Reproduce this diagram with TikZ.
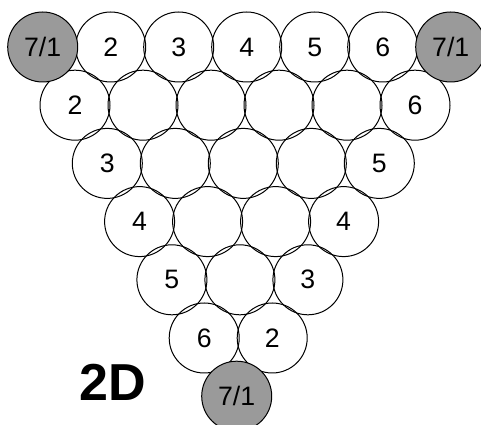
\documentclass[tikz,border=0pt]{standalone}
\usepackage{fontspec}
\setmainfont{Liberation Sans}
\usepackage{tikz}
\definecolor{goalgray}{HTML}{9A9A9A}

\begin{document}
\begin{tikzpicture}[x=0.75pt, y=0.75pt,
    ball/.style={circle, draw=black, line width=0.75pt, inner sep=0pt,
                 minimum size=52.5pt, font=\fontsize{20}{20}\selectfont},
    goal/.style={ball, fill=goalgray}]
  \useasboundingbox (0,0) rectangle (481,424);
  % top row
  \foreach \j/\lbl in {1/2, 2/3, 3/4, 4/5, 5/6}
    \node[ball] (b-0-\j) at ({42.7+68*\j}, 377) {\lbl};
  % lower rows, numbered on both sides
  \foreach \k in {1,...,5}{
    \pgfmathtruncatemacro\last{6-\k}
    \pgfmathtruncatemacro\lleft{\k+1}
    \pgfmathtruncatemacro\lright{7-\k}
    \foreach \j in {0,...,\last}{
      \ifnum\j=0 \def\lbl{\lleft}\else\ifnum\j=\last \def\lbl{\lright}\else\def\lbl{}\fi\fi
      \node[ball] (b-\k-\j) at ({42.7+32.3*\k+68*\j}, {377-58.2*\k}) {\lbl};
    }
  }
  % corners
  \node[goal] (b-0-0) at (42.7, 377) {7/1};
  \node[goal] (b-0-6) at (450.7, 377) {7/1};
  \node[goal] (b-6-0) at (236.7, 27.8) {7/1};
  \node[font=\bfseries\fontsize{39}{39}\selectfont] (dim) at (112.5, 42) {2D};
\end{tikzpicture}
\end{document}
